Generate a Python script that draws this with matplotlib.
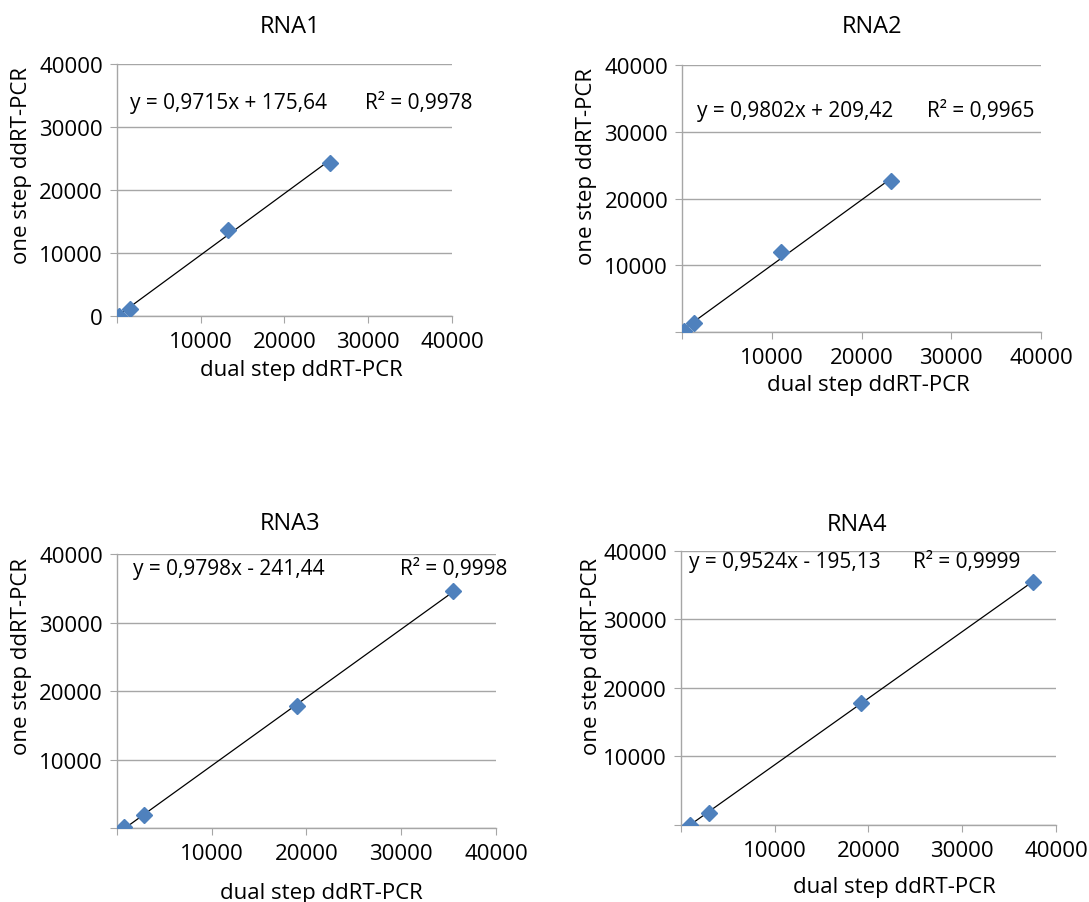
import numpy as np
import matplotlib
matplotlib.use("Agg")
import matplotlib.pyplot as plt

plt.rcParams["font.family"] = ["Open Sans", "DejaVu Sans"]
plt.rcParams["font.size"] = 15

# ----------------------------------------------
#                 data (read off)
# ----------------------------------------------
titles = ["RNA1", "RNA2", "RNA3", "RNA4"]

rna1_dual = [240, 1510, 13270, 25420]
rna1_one = [0, 1160, 13650, 24340]

rna2_dual = [185, 1370, 11060, 23300]
rna2_one = [100, 1390, 12050, 22560]

rna3_dual = [770, 2890, 19010, 35480]
rna3_one = [100, 1940, 17860, 34610]

rna4_dual = [920, 2950, 19150, 37510]
rna4_one = [50, 1750, 17830, 35460]

equations = [
    "y = 0,9715x + 175,64",
    "y = 0,9802x + 209,42",
    "y = 0,9798x - 241,44",
    "y = 0,9524x - 195,13",
]
r_squared = ["R² = 0,9978", "R² = 0,9965", "R² = 0,9998", "R² = 0,9999"]

ticks = [0, 10000, 20000, 30000, 40000]

# ----------------------------------------------
#                 layout
# ----------------------------------------------
positions = [
    [0.1074, 0.649, 0.3076, 0.279],
    [0.6263, 0.6312, 0.3297, 0.2957],
    [0.1074, 0.0819, 0.348, 0.3034],
    [0.6253, 0.0853, 0.3444, 0.3034],
]
eq_pos = [(0.039, 0.849), (0.042, 0.828), (0.042, 0.949), (0.021, 0.96)]
r2_x = [0.74, 0.682, 0.747, 0.619]
title_pos = [(0.516, 1.15), (0.53, 1.145), (0.456, 1.115), (0.47, 1.10)]
ylabel_pos = [(-0.254, 0.60), (-0.237, 0.625), (-0.224, 0.63), (-0.21, 0.62)]
xlabel_pos = [(0.55, -0.17), (0.52, -0.157), (0.54, -0.197), (0.57, -0.186)]
show_zero = [True, False, False, False]

grid_color = "#a6a6a6"
marker_color = "#4f81bd"

fig = plt.figure(figsize=(10.89, 9.03), dpi=100)

series = [
    (rna1_dual, rna1_one),
    (rna2_dual, rna2_one),
    (rna3_dual, rna3_one),
    (rna4_dual, rna4_one),
]

for i, (xs, ys) in enumerate(series):
    ax = fig.add_axes(positions[i])
    xs = np.array(xs, dtype=float)
    ys = np.array(ys, dtype=float)

    slope, intercept = np.polyfit(xs, ys, 1)
    xl = np.array([xs.min(), xs.max()])
    ax.plot(xl, slope * xl + intercept, color="black", lw=0.9, zorder=3)
    ax.plot(xs, ys, "D", color=marker_color, markersize=8.5, zorder=4)

    ax.set_xlim(0, 40000)
    ax.set_ylim(0, 40000)
    ax.set_xticks(ticks)
    ax.set_xticklabels([""] + [str(t) for t in ticks[1:]])
    ax.set_yticks(ticks)
    ylabels = [str(t) for t in ticks]
    if not show_zero[i]:
        ylabels[0] = ""
    ax.set_yticklabels(ylabels)

    ax.grid(axis="y", color=grid_color, lw=1.0)
    ax.set_axisbelow(True)
    for s in ["top", "right"]:
        ax.spines[s].set_visible(False)
    for s in ["left", "bottom"]:
        ax.spines[s].set_color(grid_color)
        ax.spines[s].set_linewidth(1.0)
    ax.tick_params(axis="x", direction="out", length=5, color=grid_color, pad=6, labelsize=16)
    ax.tick_params(axis="y", direction="out", length=5, color=grid_color, pad=5, labelsize=16)

    ax.set_ylabel("one step ddRT-PCR", fontsize=16)
    ax.yaxis.set_label_coords(*ylabel_pos[i])
    ax.set_xlabel("dual step ddRT-PCR", fontsize=16)
    ax.xaxis.set_label_coords(*xlabel_pos[i])

    ax.text(title_pos[i][0], title_pos[i][1], titles[i], transform=ax.transAxes,
            ha="center", va="center", fontsize=17)
    ax.text(eq_pos[i][0], eq_pos[i][1], equations[i], transform=ax.transAxes,
            ha="left", va="center", fontsize=15, clip_on=False)
    ax.text(r2_x[i], eq_pos[i][1], r_squared[i], transform=ax.transAxes,
            ha="left", va="center", fontsize=15, clip_on=False)

plt.savefig("out.png", dpi=100)
